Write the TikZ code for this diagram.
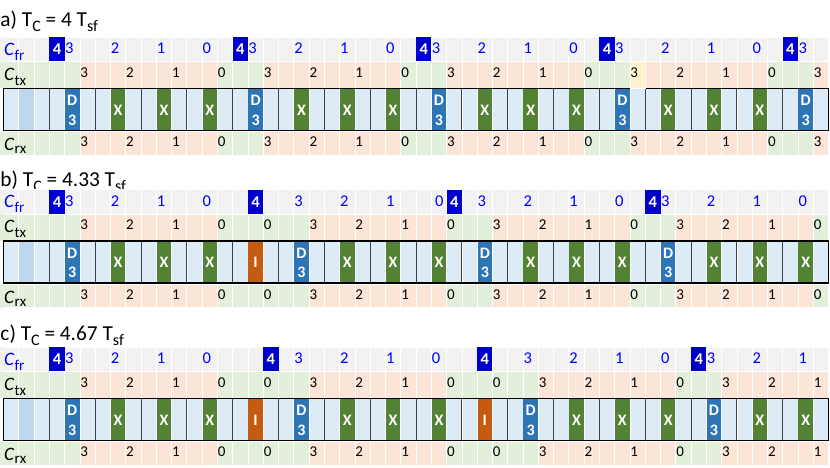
\documentclass[tikz,border=0pt]{standalone}
\usepackage{fontspec}
\setmainfont{Carlito}
\definecolor{rowgray}{HTML}{F2F2F2}
\definecolor{rowgreen}{HTML}{E2EFDA}
\definecolor{rowpeach}{HTML}{FCE4D6}
\definecolor{rowyellow}{HTML}{FFF2CC}
\definecolor{cellblue}{HTML}{DDEBF7}
\definecolor{cellblue2}{HTML}{BDD7EE}
\definecolor{blkDcol}{HTML}{2E75B6}
\definecolor{blkXcol}{HTML}{548235}
\definecolor{blkIcol}{HTML}{C55A11}
\definecolor{boxblue}{HTML}{0000CC}
\definecolor{digblue}{HTML}{0000FF}
\definecolor{framegray}{HTML}{404040}
\def\cx{3.5}
\def\cw{15.28}
\newcommand\lowsub[3]{\raisebox{-#1pt}{\fontsize{#2}{#2}\selectfont #3}}
\def\txtD{D\\3}
\def\txtX{X}
\def\txtI{I}
\tikzset{
  bgcell/.style={draw=white, line width=0.8pt},
  frdigit/.style={anchor=base west, inner sep=0pt, text=digblue, font=\fontsize{16.5}{16.5}\selectfont},
  txdigit/.style={anchor=base west, inner sep=0pt, text=black, font=\fontsize{15}{15}\selectfont},
  boxfour/.style={fill=boxblue},
  boxtext/.style={text=white, inner sep=0pt, font=\bfseries\fontsize{16.5}{16.5}\selectfont},
  blkD/.style={fill=blkDcol},
  blkX/.style={fill=blkXcol},
  blkI/.style={fill=blkIcol},
  blktext/.style={text=white, inner sep=0pt, align=center, font=\bfseries\fontsize{16}{19.5}\selectfont},
  rowlabel/.style={anchor=base west, inner sep=0pt, font=\fontsize{19}{19}\selectfont},
  titletext/.style={anchor=base west, inner sep=0pt, font=\fontsize{21.3}{21.3}\selectfont},
  framesep/.style={draw=framegray, line width=1pt},
  outerframe/.style={draw=black, line width=1.2pt},
}
% #1 panel name, #2 top y
\newcommand\drawpanel[2]{%
  \pgfmathsetmacro\ya{#2}%
  \pgfmathsetmacro\yb{#2+24.5}%
  \pgfmathsetmacro\yc{#2+51.5}%
  \pgfmathsetmacro\yd{#2+94.5}%
  % C_fr row
  \foreach \i in {0,...,53} {
    \fill[rowgray,bgcell] ({\cx+\cw*\i},\ya) rectangle ++(\cw,24.5);
  }
  \foreach \i in \boxes {
    \fill[boxfour] ({\cx+\cw*\i},\ya) rectangle ++(\cw,24.5);
    \node[boxtext] (#1-box-\i) at ({\cx+\cw*(\i+0.5)},{\ya+12.3}) {4};
  }
  \foreach \i/\d in \frlist {
    \node[frdigit] (#1-fr-\i) at ({\cx+\cw*\i+0.3},{\ya+16.7}) {\d};
  }
  % C_tx and C_rx rows
  \foreach \i in {0,...,53} {
    \fill[rowpeach,bgcell] ({\cx+\cw*\i},\yb) rectangle ++(\cw,26.5);
    \fill[rowpeach,bgcell] ({\cx+\cw*\i},\yd) rectangle ++(\cw,23.5);
  }
  \foreach \i in \greens {
    \fill[rowgreen,bgcell] ({\cx+\cw*\i},\yb) rectangle ++(\cw,26.5);
    \fill[rowgreen,bgcell] ({\cx+\cw*\i},\yd) rectangle ++(\cw,23.5);
  }
  \fill[rowgreen] (0,\ya+24.5) rectangle (\cx,\ya+51);
  \fill[rowgreen] (0,\yd) rectangle (\cx,\yd+23.5);
  \fill[rowgray] (0,\ya) rectangle (\cx,\ya+24.5);
  \foreach \i/\d in \txlist {
    \node[txdigit] (#1-tx-\i) at ({\cx+\cw*\i+0.3},{\ya+40.2}) {\d};
    \node[txdigit] (#1-rx-\i) at ({\cx+\cw*\i+0.3},{\ya+109.9}) {\d};
  }
  % frame row
  \foreach \i in {0,...,53} {
    \fill[cellblue,draw=white,line width=0.7pt] ({\cx+\cw*\i},\yc) rectangle ++(\cw,42);
  }
  \fill[cellblue2,draw=white,line width=0.7pt] ({\cx+\cw},\yc) rectangle ++(\cw,42);
  \foreach \i/\t in \blocks {
    \fill[blk\t] ({\cx+\cw*\i+0.4},\yc) rectangle ++(\cw-0.8,42);
    \node[blktext] (#1-blk-\i) at ({\cx+\cw*(\i+0.5)},{\yc+21.8}) {\csname txt\t\endcsname};
  }
  \foreach \k in {1,...,17} {
    \draw[framesep] ({\cx+3*\cw*\k},\yc) -- ({\cx+3*\cw*\k},{\yc+42});
  }
  \draw[outerframe] (\cx,\yc) rectangle ({\cx+54*\cw},{\yc+42});
  % row labels
  \node[rowlabel, text=digblue] (#1-lfr) at (4,{\ya+18}) {\textit{C}\lowsub{5}{15}{fr}};
  \node[rowlabel] (#1-ltx) at (4,{\ya+43}) {\textit{C}\lowsub{5}{15}{tx}};
  \node[rowlabel] (#1-lrx) at (4,{\ya+113.5}) {\textit{C}\lowsub{3.3}{15}{rx}};
}
\begin{document}
\begin{tikzpicture}[x=1pt,y=-1pt]
\useasboundingbox (0,0) rectangle (830,467);
% ---------------- panel a
\node[titletext] (ta) at (0.3,26.7) {a) T\lowsub{5}{16}{C} = 4 T\lowsub{5}{16}{sf}};
\def\boxes{3,15,27,39,51}
\def\frlist{4/3,7/2,10/1,13/0,16/3,19/2,22/1,25/0,28/3,31/2,34/1,37/0,40/3,43/2,46/1,49/0,52/3}
\def\greens{0,1,2,3,4,14,15,16,26,27,28,38,39,40,50,51,52}
\def\txlist{5/3,8/2,11/1,14/0,17/3,20/2,23/1,26/0,29/3,32/2,35/1,38/0,41/3,44/2,47/1,50/0,53/3}
\def\blocks{4/D,7/X,10/X,13/X,16/D,19/X,22/X,25/X,28/D,31/X,34/X,37/X,40/D,43/X,46/X,49/X,52/D}
\drawpanel{a}{37}
\fill[rowyellow,bgcell] ({\cx+\cw*41},61.5) rectangle ++(\cw,26.5);
\node[txdigit] (a-tx-41y) at ({\cx+\cw*41+0.3},77.2) {3};
% ---------------- panel b
\node[titletext] (tb) at (0.3,186) {b) T\lowsub{5}{16}{C} = 4.33 T\lowsub{5}{16}{sf}};
\def\boxes{3,16,29,42}
\def\frlist{4/3,7/2,10/1,13/0,19/3,22/2,25/1,31/3,34/2,37/1,40/0,43/3,46/2,49/1,52/0}
\def\greens{0,1,2,3,4,14,15,16,17,18,19,29,30,31,41,42,43,53}
\def\txlist{5/3,8/2,11/1,14/0,17/0,20/3,23/2,26/1,29/0,32/3,35/2,38/1,41/0,44/3,47/2,50/1,53/0}
\def\blocks{4/D,7/X,10/X,13/X,16/I,19/D,22/X,25/X,28/X,31/D,34/X,37/X,40/X,43/D,46/X,49/X,52/X}
\drawpanel{b}{189.5}
\node[frdigit] (b-fr-28) at ({\cx+\cw*28+3.5},206.2) {0};
% ---------------- panel c
\node[titletext] (tc) at (0.3,340) {c) T\lowsub{5}{16}{C} = 4.67 T\lowsub{5}{16}{sf}};
\def\boxes{3,17,31,45}
\def\frlist{4/3,7/2,10/1,13/0,19/3,22/2,25/1,28/0,34/3,37/2,40/1,43/0,46/3,49/2,52/1}
\def\greens{0,1,2,3,4,14,15,16,17,18,19,29,30,31,32,33,34,44,45,46}
\def\txlist{5/3,8/2,11/1,14/0,17/0,20/3,23/2,26/1,29/0,32/0,35/3,38/2,41/1,44/0,47/3,50/2,53/1}
\def\blocks{4/D,7/X,10/X,13/X,16/I,19/D,22/X,25/X,28/X,31/I,34/D,37/X,40/X,43/X,46/D,49/X,52/X}
\drawpanel{c}{347}
\end{tikzpicture}
\end{document}
